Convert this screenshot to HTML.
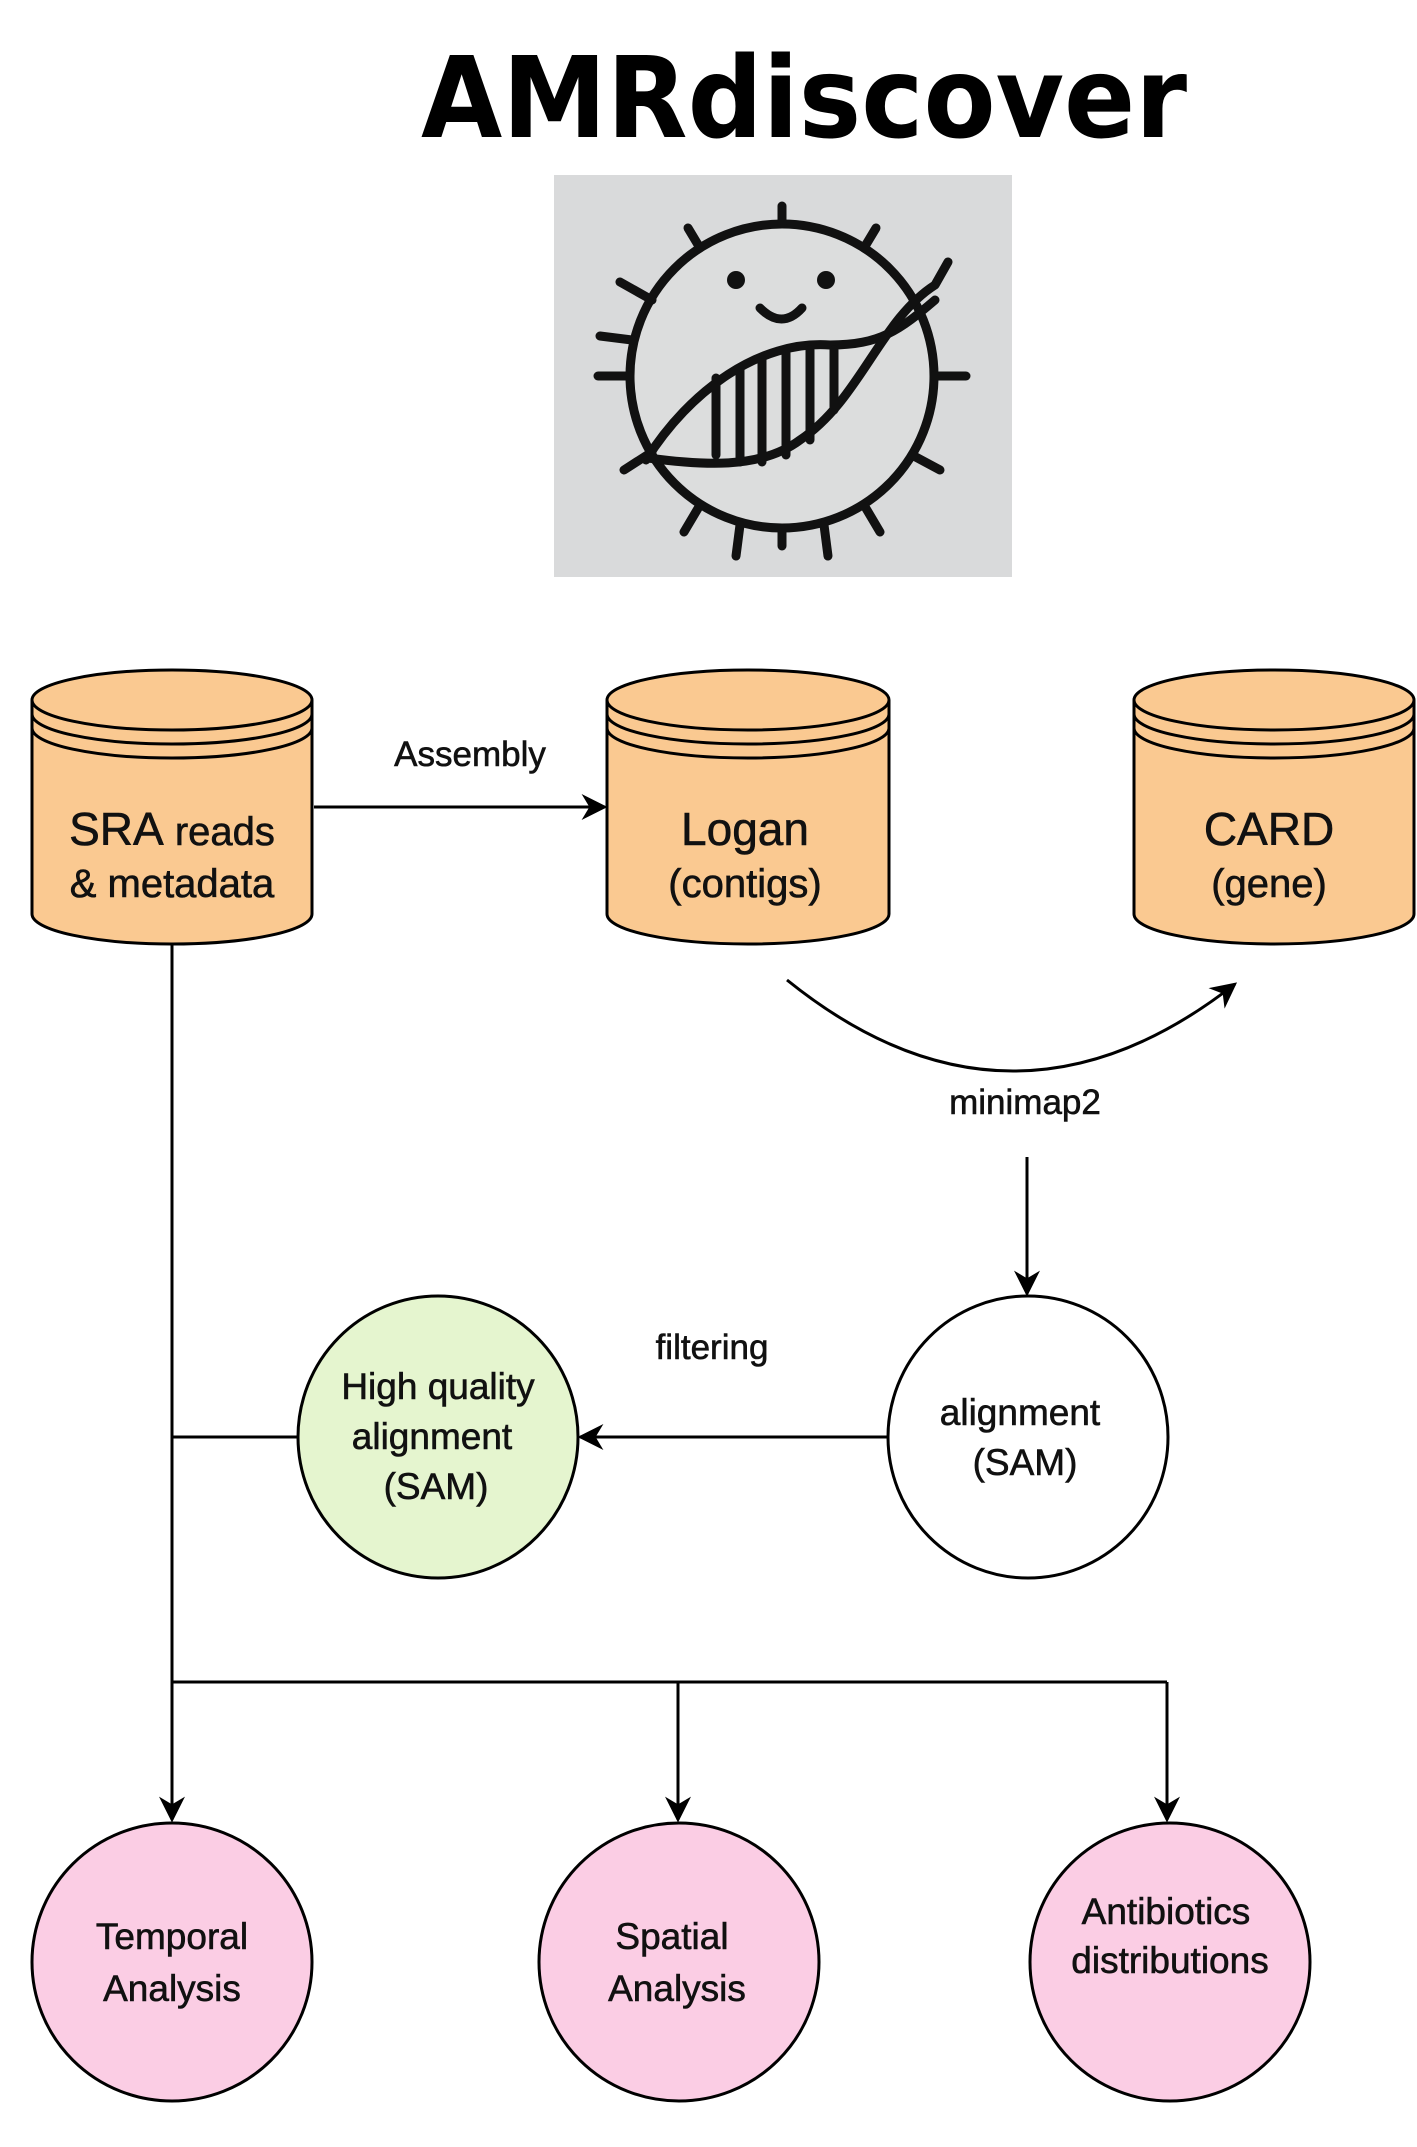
<!DOCTYPE html>
<html><head><meta charset="utf-8"><style>html,body{margin:0;padding:0;background:#fff}svg{display:block}</style></head>
<body>
<svg width="1417" height="2147" viewBox="0 0 1417 2147" xmlns="http://www.w3.org/2000/svg" style="font-family:'Liberation Sans',Arial,sans-serif">
<defs>
<marker id="ah2" viewBox="0 0 10 10" refX="9" refY="5" markerWidth="26" markerHeight="26" markerUnits="userSpaceOnUse" orient="auto"><path d="M0,0 L10,5 L0,10 L3,5 z" fill="#000"/></marker>
</defs>
<text x="804" y="137" text-anchor="middle" style="font-family:'DejaVu Sans',sans-serif" font-weight="bold" font-size="112" textLength="766" lengthAdjust="spacingAndGlyphs">AMRdiscover</text>
<rect x="554" y="175" width="458" height="402" fill="#d9dadb"/>
<g stroke="#111" stroke-width="9" fill="none" stroke-linecap="round">
<circle cx="782" cy="376" r="152" fill="#dcdddd"/>
<g>
<line x1="782" y1="224" x2="782" y2="206"/><line x1="782" y1="528" x2="782" y2="546"/>
<line x1="630" y1="376" x2="598" y2="376"/><line x1="934" y1="376" x2="966" y2="376"/>
<line x1="700" y1="248" x2="688" y2="228"/><line x1="864" y1="248" x2="876" y2="228"/>
<line x1="652" y1="300" x2="620" y2="282"/><line x1="912" y1="455" x2="940" y2="470"/>
<line x1="652" y1="452" x2="624" y2="470"/><line x1="700" y1="505" x2="684" y2="532"/>
<line x1="864" y1="505" x2="880" y2="532"/><line x1="740" y1="525" x2="736" y2="556"/>
<line x1="824" y1="525" x2="828" y2="556"/><line x1="632" y1="340" x2="600" y2="336"/>
</g>
<path d="M646 460 C690 390 760 340 830 345 C880 345 900 330 935 300"/>
<path d="M648 458 C700 465 760 470 800 440 C860 400 880 320 935 285 M935 285 L948 262"/>
<line x1="716" y1="378" x2="716" y2="455"/><line x1="740" y1="368" x2="740" y2="462"/><line x1="762" y1="360" x2="762" y2="462"/><line x1="786" y1="352" x2="786" y2="455"/><line x1="810" y1="350" x2="810" y2="440"/><line x1="834" y1="350" x2="834" y2="410"/>
<path d="M760 308 Q782 330 802 308"/>
</g>
<circle cx="736" cy="280" r="9" fill="#111"/><circle cx="826" cy="280" r="9" fill="#111"/>
<g stroke="#000" stroke-width="3" fill="#fac991">
<path d="M32 700 A140 30 0 0 1 312 700 L312 914 A140 30 0 0 1 32 914 Z"/>
<path d="M607 700 A141 30 0 0 1 889 700 L889 914 A141 30 0 0 1 607 914 Z"/>
<path d="M1134 700 A140 30 0 0 1 1414 700 L1414 914 A140 30 0 0 1 1134 914 Z"/>
</g>
<g stroke="#000" stroke-width="3" fill="none">
<path d="M32 700 A140 30 0 0 0 312 700 M32 714 A140 30 0 0 0 312 714 M32 728 A140 30 0 0 0 312 728"/>
<path d="M607 700 A141 30 0 0 0 889 700 M607 714 A141 30 0 0 0 889 714 M607 728 A141 30 0 0 0 889 728"/>
<path d="M1134 700 A140 30 0 0 0 1414 700 M1134 714 A140 30 0 0 0 1414 714 M1134 728 A140 30 0 0 0 1414 728"/>
</g>
<g font-size="40" text-anchor="middle" fill="#111" stroke="#111" stroke-width="0.6">
<text x="172" y="845"><tspan font-size="46">SRA</tspan> reads</text>
<text x="172" y="897">&amp; metadata</text>
<text x="745" y="845" font-size="46">Logan</text>
<text x="745" y="897">(contigs)</text>
<text x="1269" y="845" font-size="46">CARD</text>
<text x="1269" y="897">(gene)</text>
<text x="470" y="766" font-size="35">Assembly</text>
<text x="1025" y="1114" font-size="35">minimap2</text>
<text x="712" y="1359" font-size="35">filtering</text>
</g>
<g stroke="#000" stroke-width="3" fill="none">
<line x1="314" y1="807" x2="605" y2="807" marker-end="url(#ah2)"/>
<path d="M787 980 Q1010 1160 1235 984" marker-end="url(#ah2)"/>
<line x1="1027" y1="1157" x2="1027" y2="1294" marker-end="url(#ah2)"/>
<line x1="888" y1="1437" x2="580" y2="1437" marker-end="url(#ah2)"/>
<line x1="172" y1="944" x2="172" y2="1820" marker-end="url(#ah2)"/>
<line x1="172" y1="1437" x2="298" y2="1437"/>
<line x1="172" y1="1682" x2="1167" y2="1682"/>
<line x1="678" y1="1682" x2="678" y2="1820" marker-end="url(#ah2)"/>
<line x1="1167" y1="1682" x2="1167" y2="1820" marker-end="url(#ah2)"/>
</g>
<g stroke="#000" stroke-width="3">
<ellipse cx="438" cy="1437" rx="140" ry="141" fill="#e5f5cf"/>
<ellipse cx="1028" cy="1437" rx="140" ry="141" fill="#fff"/>
<ellipse cx="172" cy="1962" rx="140" ry="139" fill="#fbcde4"/>
<ellipse cx="679" cy="1962" rx="140" ry="139" fill="#fbcde4"/>
<ellipse cx="1170" cy="1962" rx="140" ry="139" fill="#fbcde4"/>
</g>
<g font-size="37" text-anchor="middle" fill="#111" stroke="#111" stroke-width="0.6">
<text x="438" y="1399">High quality</text>
<text x="432" y="1449">alignment</text>
<text x="436" y="1499">(SAM)</text>
<text x="1020" y="1425">alignment</text>
<text x="1025" y="1475">(SAM)</text>
<text x="172" y="1949">Temporal</text>
<text x="172" y="2001">Analysis</text>
<text x="672" y="1949">Spatial</text>
<text x="677" y="2001">Analysis</text>
<text x="1166" y="1924">Antibiotics</text>
<text x="1170" y="1973">distributions</text>
</g>
</svg>
</body></html>
